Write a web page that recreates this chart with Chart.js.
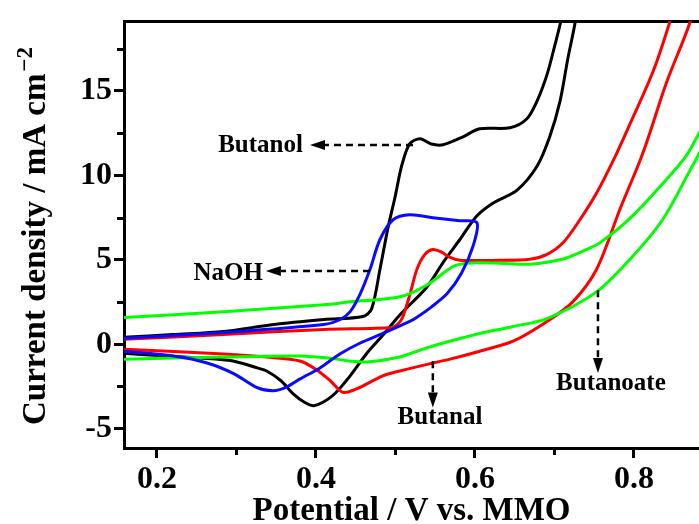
<!DOCTYPE html>
<html>
<head>
<meta charset="utf-8">
<script src="https://cdn.jsdelivr.net/npm/chart.js@4.4.0/dist/chart.umd.min.js"></script>
<style>
  html, body { margin: 0; padding: 0; background: #fff; }
  #c { display: block; }
</style>
</head>
<body>
<canvas id="c" width="699" height="524"></canvas>
<script>
// Cyclic voltammograms: potential (V vs. MMO) and current density (mA cm^-2)
// Each loop runs the anodic sweep first, then the cathodic return sweep.

const butanolV = [0.1585, 0.22, 0.284, 0.347, 0.410, 0.459, 0.470, 0.4805, 0.4906, 0.4994, 0.508, 0.518, 0.531, 0.545, 0.560, 0.585, 0.606, 0.644, 0.665, 0.678, 0.6906, 0.7006, 0.708, 0.712,
                  0.728, 0.726, 0.717, 0.707, 0.694, 0.678, 0.653, 0.623, 0.6025, 0.581, 0.560, 0.5396, 0.5057, 0.484, 0.464, 0.443, 0.421, 0.398, 0.386, 0.371, 0.356, 0.338, 0.326, 0.2956, 0.254, 0.191, 0.1585];
const butanolJ = [0.41, 0.58, 0.76, 1.17, 1.46, 1.64, 2.1, 4.44, 6.9, 8.7, 10.6, 11.87, 12.16, 11.85, 11.81, 12.28, 12.75, 12.81, 13.33, 14.39, 15.96, 17.72, 19.12, 20.2,
                  20.2, 19.06, 16.96, 14.39, 12.28, 10.53, 9.12, 8.36, 7.60, 6.20, 4.85, 3.39, 1.75, 0.53, -0.53, -1.87, -3.04, -3.63, -3.45, -2.92, -2.16, -1.58, -1.40, -0.99, -0.82, -0.64, -0.53];

const butanalV = [0.1585, 0.284, 0.410, 0.495, 0.503, 0.509, 0.518, 0.527, 0.537, 0.547, 0.558, 0.568, 0.581, 0.631, 0.669, 0.6906, 0.711, 0.732, 0.753, 0.774, 0.795, 0.824, 0.845, 0.851,
                  0.874, 0.8705, 0.8415, 0.811, 0.782, 0.753, 0.723, 0.6906, 0.648, 0.606, 0.5686, 0.547, 0.5057, 0.484, 0.4516, 0.434, 0.418, 0.401, 0.380, 0.338, 0.284, 0.1585];
const butanalJ = [0.29, 0.58, 0.88, 0.99, 1.2, 1.6, 2.92, 4.44, 5.32, 5.61, 5.45, 5.15, 4.97, 4.97, 5.03, 5.32, 6.02, 7.37, 8.95, 10.88, 13.04, 16.14, 19.06, 20.2,
                  20.2, 19.06, 15.56, 11.29, 7.95, 4.44, 2.51, 1.35, 0.18, -0.41, -0.88, -1.11, -1.58, -1.87, -2.63, -2.85, -2.16, -1.52, -0.99, -0.76, -0.58, -0.29];

const naohV = [0.1585, 0.284, 0.410, 0.430, 0.443, 0.455, 0.468, 0.4805, 0.497, 0.518, 0.547, 0.581, 0.6025,
               0.5975, 0.583, 0.565, 0.545, 0.527, 0.518, 0.484, 0.455, 0.430, 0.405, 0.380, 0.362, 0.346, 0.326, 0.297, 0.263, 0.221, 0.1585];
const naohJ = [0.35, 0.70, 1.17, 1.45, 1.93, 2.92, 4.44, 6.20, 7.37, 7.66, 7.49, 7.31, 7.19,
               5.8, 4.2, 3.0, 2.2, 1.6, 1.35, 0.64, 0.06, -0.58, -1.40, -2.05, -2.55, -2.75, -2.57, -1.75, -1.11, -0.70, -0.41];

const butanoateV = [0.1585, 0.284, 0.410, 0.443, 0.5057, 0.5396, 0.5724, 0.590, 0.631, 0.669, 0.711, 0.740, 0.757, 0.795, 0.836, 0.865, 0.882, 0.892,
                    0.892, 0.882, 0.8705, 0.836, 0.795, 0.753, 0.6906, 0.648, 0.606, 0.590, 0.547, 0.531, 0.5057, 0.464, 0.443, 0.421, 0.380, 0.284, 0.1585];
const butanoateJ = [1.58, 1.93, 2.34, 2.51, 2.81, 3.51, 4.6, 4.8, 4.8, 4.74, 5.05, 5.6, 6.0, 7.45, 9.5, 11.1, 12.5, 13.3,
                    12.3, 11.3, 10.29, 7.37, 5.03, 3.10, 1.52, 1.05, 0.64, 0.45, -0.1, -0.35, -0.75, -1.05, -1.0, -0.85, -0.70, -0.76, -0.88];

const xTickValues = [0.2, 0.4, 0.6, 0.8];
const xMinorValues = [0.3, 0.5, 0.7];
const yTickValues = [-5, 0, 5, 10, 15];
const yMinorValues = [-2.5, 2.5, 7.5, 12.5, 17.5];

const X_MIN = 0.1585, X_MAX = 0.8818;
const Y_MIN = -6.14, Y_MAX = 19.12;

const SERIF = '"Liberation Serif", "Times New Roman", serif';

function pairs(xs, ys) {
  return xs.map((x, i) => ({ x: x, y: ys[i] }));
}

// Arrow callouts naming each trace (positions in axis units)
const callouts = [
  { text: 'Butanol',   from: [0.522, 11.8],  to: [0.3925, 11.8], label: [0.3836, 11.75], align: 'right' },
  { text: 'NaOH',      from: [0.468, 4.33],  to: [0.337, 4.33],  label: [0.3333, 4.21],  align: 'right' },
  { text: 'Butanal',   from: [0.547, -1.0],  to: [0.547, -3.74], label: [0.556, -4.33],  align: 'center' },
  { text: 'Butanoate', from: [0.7547, 3.2],  to: [0.7547, -1.7], label: [0.771, -2.34],  align: 'center' }
];

const decor = {
  id: 'cvDecor',
  afterDraw(chart) {
    const { ctx, chartArea } = chart;
    const xs = chart.scales.x, ys = chart.scales.y;
    ctx.save();

    // minor ticks
    ctx.strokeStyle = '#000';
    ctx.lineWidth = 3;
    xMinorValues.forEach(v => {
      const px = Math.round(xs.getPixelForValue(v)) + 0.5;
      ctx.beginPath();
      ctx.moveTo(px, chartArea.bottom);
      ctx.lineTo(px, chartArea.bottom + 7);
      ctx.stroke();
    });
    yMinorValues.forEach(v => {
      const py = Math.round(ys.getPixelForValue(v)) + 0.5;
      ctx.beginPath();
      ctx.moveTo(chartArea.left, py);
      ctx.lineTo(chartArea.left - 7, py);
      ctx.stroke();
    });

    // y-axis title with superscript
    const main = 'Current density / mA cm';
    const sup = '\u22122';
    ctx.fillStyle = '#000';
    ctx.font = 'bold 33px ' + SERIF;
    const w1 = ctx.measureText(main).width;
    ctx.font = 'bold 23px ' + SERIF;
    const w2 = ctx.measureText(sup).width;
    const total = w1 + 2 + w2;
    ctx.translate(36, 236);
    ctx.rotate(-Math.PI / 2);
    ctx.textBaseline = 'middle';
    ctx.textAlign = 'left';
    ctx.font = 'bold 33px ' + SERIF;
    ctx.fillText(main, -total / 2, 0);
    ctx.font = 'bold 23px ' + SERIF;
    ctx.fillText(sup, -total / 2 + w1 + 2, -10);
    ctx.setTransform(1, 0, 0, 1, 0, 0);

    // callouts: dashed arrows with labels
    callouts.forEach(c => {
      const x0 = xs.getPixelForValue(c.from[0]), y0 = ys.getPixelForValue(c.from[1]);
      const x1 = xs.getPixelForValue(c.to[0]),   y1 = ys.getPixelForValue(c.to[1]);
      const ang = Math.atan2(y1 - y0, x1 - x0);
      const headLen = 15, headHalf = 5;
      const bx = x1 - headLen * Math.cos(ang), by = y1 - headLen * Math.sin(ang);
      ctx.strokeStyle = '#000';
      ctx.lineWidth = 2.5;
      ctx.setLineDash([7, 5]);
      ctx.beginPath();
      ctx.moveTo(x0, y0);
      ctx.lineTo(bx, by);
      ctx.stroke();
      ctx.setLineDash([]);
      ctx.beginPath();
      ctx.moveTo(x1, y1);
      ctx.lineTo(bx + headHalf * Math.sin(ang), by - headHalf * Math.cos(ang));
      ctx.lineTo(bx - headHalf * Math.sin(ang), by + headHalf * Math.cos(ang));
      ctx.closePath();
      ctx.fillStyle = '#000';
      ctx.fill();

      ctx.font = 'bold 25px ' + SERIF;
      ctx.textAlign = c.align;
      ctx.textBaseline = 'middle';
      ctx.fillText(c.text, xs.getPixelForValue(c.label[0]), ys.getPixelForValue(c.label[1]));
    });

    ctx.restore();
  }
};

const lineStyle = (color) => ({
  borderColor: color,
  backgroundColor: color,
  borderWidth: 3,
  pointRadius: 0,
  showLine: true,
  fill: false,
  tension: 0.3,
  clip: 0
});

new Chart(document.getElementById('c'), {
  type: 'scatter',
  data: {
    datasets: [
      Object.assign({ label: 'NaOH', data: pairs(naohV, naohJ) }, lineStyle('#0a0aff')),
      Object.assign({ label: 'Butanoate', data: pairs(butanoateV, butanoateJ) }, lineStyle('#00ff00')),
      Object.assign({ label: 'Butanal', data: pairs(butanalV, butanalJ) }, lineStyle('#ff0000')),
      Object.assign({ label: 'Butanol', data: pairs(butanolV, butanolJ) }, lineStyle('#000000'))
    ]
  },
  options: {
    responsive: false,
    animation: false,
    devicePixelRatio: 1,
    layout: { padding: { top: 16, left: 0, right: 0, bottom: 0 } },
    plugins: { legend: { display: false }, tooltip: { enabled: false } },
    scales: {
      x: {
        type: 'linear',
        position: 'bottom',
        min: X_MIN,
        max: X_MAX,
        afterBuildTicks: s => { s.ticks = xTickValues.map(v => ({ value: v })); },
        afterFit: s => { s.height = 76; },
        ticks: {
          color: '#000',
          padding: 3,
          maxRotation: 0,
          font: { family: SERIF, size: 32, weight: 'bold' },
          callback: v => Number(v).toFixed(1)
        },
        grid: { display: true, drawOnChartArea: false, drawTicks: true, tickLength: 10, tickWidth: 3, tickColor: '#000' },
        border: { display: true, width: 3, color: '#000' },
        title: {
          display: true,
          text: 'Potential / V vs. MMO',
          color: '#000',
          font: { family: SERIF, size: 33, weight: 'bold', lineHeight: 1 },
          padding: { top: 0, bottom: -4 }
        }
      },
      xTop: {
        type: 'linear',
        position: 'top',
        min: X_MIN,
        max: X_MAX,
        afterFit: s => { s.height = 0; },
        ticks: { display: false },
        grid: { display: false, drawTicks: false },
        border: { display: true, width: 3, color: '#000' }
      },
      y: {
        type: 'linear',
        position: 'left',
        min: Y_MIN,
        max: Y_MAX,
        afterBuildTicks: s => { s.ticks = yTickValues.map(v => ({ value: v })); },
        afterFit: s => { s.width = 124; },
        ticks: {
          color: '#000',
          padding: 2,
          font: { family: SERIF, size: 32, weight: 'bold' },
          callback: v => String(v)
        },
        grid: { display: true, drawOnChartArea: false, drawTicks: true, tickLength: 10, tickWidth: 3, tickColor: '#000' },
        border: { display: true, width: 3, color: '#000' }
      }
    }
  },
  plugins: [decor]
});
</script>
</body>
</html>
